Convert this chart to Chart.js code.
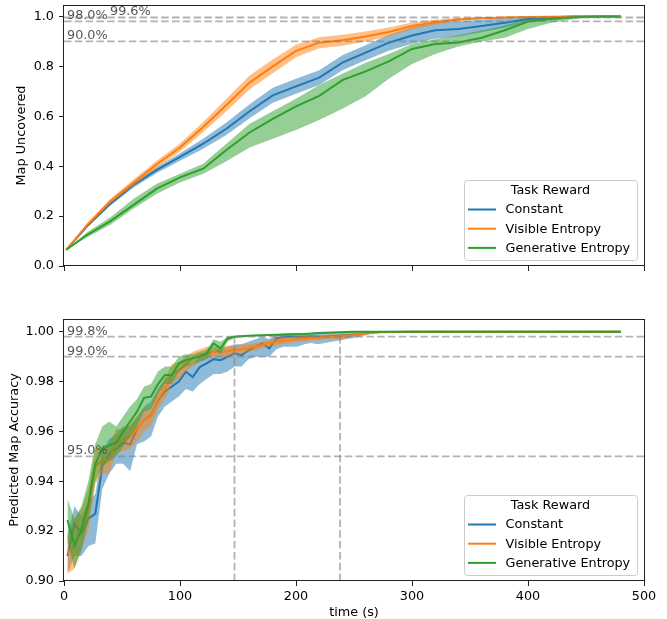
<!DOCTYPE html>
<html>
<head>
<meta charset="utf-8">
<script src="https://cdn.jsdelivr.net/npm/chart.js@4/dist/chart.umd.min.js"></script>
<style>
  body { margin: 0; background: #fff; }
  canvas { position: absolute; left: 0; }
  #topChart { top: 0; }
  #botChart { top: 300px; }
</style>
</head>
<body>
<canvas id="topChart" width="667" height="300"></canvas>
<canvas id="botChart" width="667" height="319"></canvas>
<script>
// ---- data: map uncovered (top) ----
var tTop = [2, 20, 40, 60, 80, 100, 120, 140, 160, 180, 200, 220, 240, 260, 280, 300, 320, 340, 360, 380, 400, 420, 440, 460, 480];

var constCov   = [0.065, 0.16, 0.25, 0.325, 0.385, 0.437, 0.49, 0.55, 0.62, 0.684, 0.72, 0.755, 0.815, 0.855, 0.895, 0.924, 0.945, 0.95, 0.962, 0.975, 0.99, 0.997, 1.0, 1.0, 1.0];
var constCovLo = [0.065, 0.155, 0.242, 0.315, 0.373, 0.422, 0.47, 0.525, 0.592, 0.654, 0.69, 0.725, 0.785, 0.825, 0.863, 0.891, 0.912, 0.92, 0.937, 0.955, 0.98, 0.993, 0.998, 1.0, 1.0];
var constCovHi = [0.065, 0.165, 0.258, 0.335, 0.397, 0.452, 0.51, 0.575, 0.648, 0.714, 0.75, 0.785, 0.845, 0.885, 0.927, 0.957, 0.978, 0.98, 0.987, 0.995, 1.0, 1.0, 1.0, 1.0, 1.0];

var visCov   = [0.065, 0.165, 0.26, 0.335, 0.408, 0.475, 0.557, 0.645, 0.735, 0.80, 0.862, 0.895, 0.905, 0.92, 0.938, 0.962, 0.977, 0.988, 0.993, 0.996, 0.998, 0.999, 1.0, 1.0, 1.0];
var visCovLo = [0.065, 0.159, 0.25, 0.323, 0.394, 0.459, 0.537, 0.62, 0.707, 0.772, 0.837, 0.873, 0.883, 0.9, 0.92, 0.948, 0.967, 0.982, 0.989, 0.993, 0.996, 0.998, 1.0, 1.0, 1.0];
var visCovHi = [0.065, 0.171, 0.27, 0.347, 0.422, 0.491, 0.577, 0.67, 0.763, 0.828, 0.887, 0.917, 0.927, 0.94, 0.956, 0.976, 0.987, 0.994, 0.997, 0.999, 1.0, 1.0, 1.0, 1.0, 1.0];

var genCov   = [0.065, 0.125, 0.18, 0.245, 0.31, 0.355, 0.39, 0.465, 0.535, 0.59, 0.64, 0.682, 0.745, 0.78, 0.82, 0.87, 0.89, 0.896, 0.915, 0.945, 0.98, 0.99, 0.997, 1.0, 1.0];
var genCovLo = [0.065, 0.115, 0.165, 0.23, 0.29, 0.335, 0.37, 0.42, 0.475, 0.51, 0.545, 0.585, 0.63, 0.68, 0.75, 0.81, 0.85, 0.88, 0.9, 0.915, 0.95, 0.975, 0.99, 1.0, 1.0];
var genCovHi = [0.065, 0.135, 0.195, 0.27, 0.33, 0.37, 0.41, 0.49, 0.57, 0.62, 0.67, 0.725, 0.77, 0.815, 0.85, 0.89, 0.91, 0.925, 0.945, 0.965, 0.99, 0.997, 1.0, 1.0, 1.0];

// ---- data: predicted map accuracy (bottom) ----
var tBot = [3, 9, 15, 21, 27, 33, 39, 45, 51, 57, 63, 69, 75, 81, 87, 93, 99, 105, 111, 117, 123, 129, 135, 141, 147, 153, 159, 165, 171, 177, 183, 189, 195, 201, 207, 213, 219, 225, 231, 237, 243, 249, 255, 261, 267, 273, 300, 360, 420, 480];

var constAcc   = [0.910, 0.923, 0.919, 0.925, 0.927, 0.946, 0.951, 0.953, 0.9555, 0.9548, 0.961, 0.9645, 0.9665, 0.9725, 0.976, 0.978, 0.980, 0.984, 0.9818, 0.9858, 0.9873, 0.989, 0.9886, 0.990, 0.9913, 0.9906, 0.9925, 0.994, 0.9953, 0.9933, 0.9973, 0.9978, 0.998, 0.998, 0.998, 0.9982, 0.998, 0.998, 0.9982, 0.9984, 0.9986, 0.9988, 0.999, 0.9994, 0.9997, 0.9999, 1, 1, 1, 1];
var constAccLo = [0.903, 0.910, 0.910, 0.914, 0.915, 0.937, 0.943, 0.947, 0.947, 0.944, 0.955, 0.956, 0.958, 0.966, 0.970, 0.972, 0.974, 0.977, 0.976, 0.979, 0.981, 0.983, 0.983, 0.984, 0.986, 0.986, 0.989, 0.990, 0.990, 0.990, 0.993, 0.994, 0.994, 0.994, 0.995, 0.9955, 0.995, 0.9955, 0.996, 0.9965, 0.997, 0.9975, 0.998, 0.9988, 0.9994, 0.9998, 1, 1, 1, 1];
var constAccHi = [0.918, 0.930, 0.926, 0.932, 0.935, 0.952, 0.957, 0.959, 0.962, 0.962, 0.966, 0.970, 0.972, 0.977, 0.981, 0.983, 0.985, 0.988, 0.987, 0.990, 0.991, 0.993, 0.993, 0.994, 0.995, 0.995, 0.996, 0.997, 0.998, 0.997, 0.999, 0.9995, 0.9995, 0.9995, 0.9995, 0.9995, 0.9995, 0.9995, 0.9995, 0.9996, 0.9997, 0.9998, 0.9999, 1, 1, 1, 1, 1, 1, 1];

var visAcc   = [0.911, 0.914, 0.921, 0.929, 0.946, 0.9485, 0.9485, 0.956, 0.9565, 0.958, 0.961, 0.9645, 0.966, 0.973, 0.977, 0.983, 0.9845, 0.987, 0.9895, 0.9905, 0.9915, 0.992, 0.992, 0.9922, 0.9927, 0.993, 0.9935, 0.994, 0.9948, 0.9955, 0.996, 0.9965, 0.9968, 0.997, 0.9973, 0.9975, 0.9976, 0.9978, 0.998, 0.998, 0.9983, 0.9986, 0.999, 0.9993, 0.9996, 0.9998, 1, 1, 1, 1];
var visAccLo = [0.903, 0.905, 0.913, 0.920, 0.939, 0.943, 0.943, 0.951, 0.952, 0.953, 0.956, 0.960, 0.962, 0.969, 0.973, 0.979, 0.981, 0.984, 0.986, 0.988, 0.989, 0.990, 0.990, 0.990, 0.991, 0.991, 0.992, 0.9925, 0.9935, 0.994, 0.9945, 0.995, 0.9955, 0.996, 0.996, 0.9965, 0.9965, 0.997, 0.997, 0.997, 0.9975, 0.998, 0.9985, 0.999, 0.9994, 0.9997, 1, 1, 1, 1];
var visAccHi = [0.918, 0.925, 0.929, 0.937, 0.953, 0.954, 0.954, 0.961, 0.961, 0.963, 0.966, 0.969, 0.970, 0.977, 0.981, 0.987, 0.988, 0.990, 0.992, 0.993, 0.994, 0.994, 0.994, 0.9944, 0.9945, 0.995, 0.995, 0.9955, 0.996, 0.997, 0.9975, 0.998, 0.998, 0.998, 0.9985, 0.9985, 0.9987, 0.9988, 0.999, 0.999, 0.9991, 0.9992, 0.9995, 0.9996, 0.9998, 0.9999, 1, 1, 1, 1];

var genAcc   = [0.9245, 0.9144, 0.9205, 0.931, 0.947, 0.9528, 0.9545, 0.9555, 0.960, 0.964, 0.968, 0.9735, 0.974, 0.979, 0.9826, 0.9826, 0.9872, 0.9886, 0.9893, 0.990, 0.9913, 0.9953, 0.9933, 0.9973, 0.998, 0.9982, 0.9984, 0.9985, 0.9986, 0.9987, 0.9988, 0.9988, 0.9989, 0.999, 0.9991, 0.9993, 0.9995, 0.9996, 0.9997, 0.9998, 0.9999, 1, 1, 1, 1, 1, 1, 1, 1, 1];
var genAccLo = [0.916, 0.905, 0.912, 0.924, 0.940, 0.946, 0.948, 0.950, 0.954, 0.958, 0.962, 0.968, 0.969, 0.975, 0.979, 0.979, 0.984, 0.986, 0.987, 0.988, 0.989, 0.993, 0.991, 0.996, 0.9975, 0.998, 0.9981, 0.9982, 0.9983, 0.9984, 0.9985, 0.9985, 0.9986, 0.9987, 0.9988, 0.999, 0.9992, 0.9994, 0.9995, 0.9996, 0.9998, 1, 1, 1, 1, 1, 1, 1, 1, 1];
var genAccHi = [0.933, 0.925, 0.930, 0.940, 0.955, 0.962, 0.964, 0.962, 0.966, 0.970, 0.973, 0.978, 0.979, 0.984, 0.986, 0.986, 0.990, 0.991, 0.991, 0.992, 0.993, 0.997, 0.996, 0.998, 0.9985, 0.9986, 0.9987, 0.9988, 0.9989, 0.999, 0.9991, 0.9991, 0.9992, 0.9993, 0.9994, 0.9995, 0.9997, 0.9998, 0.9999, 1, 1, 1, 1, 1, 1, 1, 1, 1, 1, 1];

// ---- reference lines and ticks ----
var seriesNames = ["Constant", "Visible Entropy", "Generative Entropy"];
var covRefs = [0.98, 0.996, 0.90];
var covRefLabels = ["98.0%", "99.6%", "90.0%"];
var accRefs = [0.998, 0.99, 0.95];
var accRefLabels = ["99.8%", "99.0%", "95.0%"];
var accTimes = [147, 238];   // time to reach the accuracy levels
var xTicks = [0, 100, 200, 300, 400, 500];
var covTicks = [0, 0.2, 0.4, 0.6, 0.8, 1.0];
var accTicks = [0.90, 0.92, 0.94, 0.96, 0.98, 1.00];

var colors = ["#1f77b4", "#ff7f0e", "#2ca02c"];
var bands = ["rgba(31,119,180,0.5)", "rgba(255,127,14,0.5)", "rgba(44,160,44,0.5)"];
var refColor = "rgba(128,128,128,0.6)";
var fontPx = 12.8;

Chart.defaults.font.family = "'DejaVu Sans', sans-serif";
Chart.defaults.font.size = fontPx;
Chart.defaults.color = "#000";

function pts(xs, ys) {
  return xs.map(function (x, i) { return { x: x, y: ys[i] }; });
}

// mean line + shaded band for one series
function seriesSets(xs, mean, lo, hi, k) {
  var order = (2 - k) * 2;
  return [
    { data: pts(xs, lo), borderWidth: 0, pointRadius: 0, fill: false, order: order + 1 },
    { data: pts(xs, hi), borderWidth: 0, pointRadius: 0, fill: '-1', backgroundColor: bands[k], order: order + 1 },
    { data: pts(xs, mean), borderColor: colors[k], borderWidth: 2, pointRadius: 0, fill: false, order: order }
  ];
}

function refSet(data) {
  return { data: data, borderColor: refColor, borderWidth: 1.8, borderDash: [7.5, 3.3], pointRadius: 0, fill: false, order: -1 };
}

// frame, percentage labels and legend
var decor = {
  id: 'decor',
  afterDraw: function (chart, args, opts) {
    var ctx = chart.ctx, ca = chart.chartArea, y = chart.scales.y;
    ctx.save();
    // labels for the reference levels
    ctx.font = fontPx + "px 'DejaVu Sans'";
    ctx.fillStyle = "#555";
    ctx.textAlign = "left";
    ctx.textBaseline = "alphabetic";
    opts.refs.forEach(function (v, i) {
      ctx.fillText(opts.labels[i], ca.left + 3 + opts.shift[i], y.getPixelForValue(v) - 2);
    });
    // axes frame
    ctx.strokeStyle = "#222";
    ctx.lineWidth = 1;
    ctx.strokeRect(Math.round(ca.left) - 0.5, Math.round(ca.top) + 0.5, Math.round(ca.right - ca.left) + 1, Math.round(ca.bottom - ca.top) - 1);
    // legend
    var w = 173, h = 80;
    var x0 = ca.right - 7 - w, y0 = ca.bottom - 6 - h;
    ctx.beginPath();
    ctx.roundRect(x0 + 0.5, y0 + 0.5, w, h, 3);
    ctx.fillStyle = "rgba(255,255,255,0.8)";
    ctx.fill();
    ctx.strokeStyle = "#cccccc";
    ctx.stroke();
    ctx.fillStyle = "#000";
    ctx.textBaseline = "middle";
    ctx.textAlign = "center";
    ctx.fillText("Task Reward", x0 + w / 2, y0 + 11);
    ctx.textAlign = "left";
    seriesNames.forEach(function (name, i) {
      var ly = y0 + 29.5 + i * 19.2;
      ctx.strokeStyle = colors[i];
      ctx.lineWidth = 2;
      ctx.beginPath();
      ctx.moveTo(x0 + 4, ly);
      ctx.lineTo(x0 + 32, ly);
      ctx.stroke();
      ctx.fillText(name, x0 + 41.5, ly + 0.5);
    });
    ctx.restore();
  }
};

function tickList(list) {
  return function (s) { s.ticks = list.map(function (v) { return { value: v }; }); };
}

function noPad(s) {
  s.paddingTop = 0; s.paddingBottom = 0; s.paddingLeft = 0; s.paddingRight = 0;
}

var gridOpts = { drawOnChartArea: false, tickLength: 5, tickColor: "#222", tickWidth: 1 };

function makeChart(canvas, cfg) {
  return new Chart(canvas, {
    type: 'line',
    data: { datasets: cfg.datasets },
    options: {
      responsive: false,
      animation: false,
      devicePixelRatio: 1,
      layout: { padding: { left: 0, right: 23, top: cfg.padTop, bottom: 0 } },
      plugins: {
        legend: { display: false },
        tooltip: { enabled: false },
        decor: { refs: cfg.refs, labels: cfg.refLabels, shift: cfg.shift }
      },
      scales: {
        x: {
          type: 'linear', min: 0, max: 500,
          afterBuildTicks: tickList(xTicks),
          grid: gridOpts,
          border: { display: false },
          ticks: { display: cfg.showX, padding: 3, maxRotation: 0 },
          title: { display: cfg.showX, text: 'time (s)', padding: { top: 0, bottom: 0 }, font: { lineHeight: 1 } },
          afterFit: function (s) { s.height = cfg.xHeight; noPad(s); }
        },
        y: {
          min: cfg.yMin, max: cfg.yMax,
          afterBuildTicks: tickList(cfg.yTicks),
          grid: gridOpts,
          border: { display: false },
          ticks: { padding: 5, callback: function (v) { return v.toFixed(cfg.digits); } },
          title: { display: true, text: cfg.yTitle, padding: { top: cfg.titlePad, bottom: 0 }, font: { lineHeight: 1 } },
          afterFit: function (s) { s.width = 64; noPad(s); }
        }
      }
    },
    plugins: [decor]
  });
}

var topSets = []
  .concat(seriesSets(tTop, constCov, constCovLo, constCovHi, 0))
  .concat(seriesSets(tTop, visCov, visCovLo, visCovHi, 1))
  .concat(seriesSets(tTop, genCov, genCovLo, genCovHi, 2));
covRefs.forEach(function (v) { topSets.push(refSet([{ x: 0, y: v }, { x: 500, y: v }])); });

var botSets = []
  .concat(seriesSets(tBot, constAcc, constAccLo, constAccHi, 0))
  .concat(seriesSets(tBot, visAcc, visAccLo, visAccHi, 1))
  .concat(seriesSets(tBot, genAcc, genAccLo, genAccHi, 2));
accRefs.forEach(function (v) { botSets.push(refSet([{ x: 0, y: v }, { x: 500, y: v }])); });
accTimes.forEach(function (t) { botSets.push(refSet([{ x: t, y: 0.90 }, { x: t, y: accRefs[0] }])); });

makeChart(document.getElementById('topChart'), {
  datasets: topSets, padTop: 5, xHeight: 34, showX: false,
  yMin: 0, yMax: 1.046, yTicks: covTicks, digits: 1, yTitle: 'Map Uncovered', titlePad: 15.3,
  refs: covRefs, refLabels: covRefLabels, shift: [0, 43, 0]
});

makeChart(document.getElementById('botChart'), {
  datasets: botSets, padTop: 19, xHeight: 38, showX: true,
  yMin: 0.90, yMax: 1.0051, yTicks: accTicks, digits: 2, yTitle: 'Predicted Map Accuracy', titlePad: 8,
  refs: accRefs, refLabels: accRefLabels, shift: [0, 0, 0]
});
</script>
</body>
</html>
